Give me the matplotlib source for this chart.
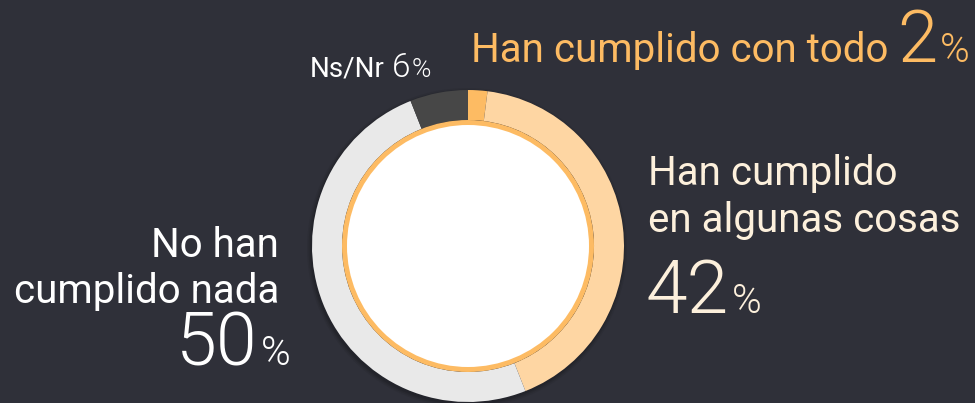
import matplotlib.pyplot as plt
from matplotlib.patches import Circle

# donut data (percent), clockwise from 12 o'clock
labels = ["Han cumplido con todo", "Han cumplido en algunas cosas", "No han cumplido nada", "Ns/Nr"]
values = [2, 42, 50, 6]
colors = ["#fdbb63", "#fed6a3", "#e9e9e9", "#474747"]

bg = "#2f3039"
orange = "#fdbb63"
cream = "#fdf0dc"
font = "Roboto"

fig = plt.figure(figsize=(9.75, 4.03), dpi=100, facecolor=bg)
ax = fig.add_axes([0, 0, 1, 1])
ax.set_facecolor(bg)

cx, cy = 468, 157
r_out, ring = 156, 30

# soft shadow under the ring
for dr, a in [(4, 0.06), (2.5, 0.08), (1, 0.1)]:
    ax.add_patch(Circle((cx - 1, cy - 2), r_out + dr, fc="black", ec="none", alpha=a))

ax.pie(values, colors=colors, startangle=90, counterclock=False, center=(cx, cy),
       radius=r_out, wedgeprops=dict(width=ring, linewidth=0))
ax.add_patch(Circle((cx, cy), r_out - ring, fc=orange, ec="none"))
ax.add_patch(Circle((cx, cy), r_out - ring - 5, fc="white", ec="none"))

ax.set_xlim(0, 975)
ax.set_ylim(0, 403)
ax.set_aspect("equal")
ax.axis("off")

renderer = fig.canvas.get_renderer()


def chain(x, y, pieces, ha="left"):
    # pieces: (text, size, weight, color, gap_before)
    objs = []
    total = 0
    for s, size, weight, color, gap in pieces:
        t = ax.text(0, y, s, fontsize=size, fontweight=weight, color=color,
                    family=font, va="baseline", ha="left")
        w = t.get_window_extent(renderer).width
        objs.append((t, w, gap))
        total += w + gap
    pos = x if ha == "left" else x - total
    for t, w, gap in objs:
        pos += gap
        t.set_x(pos)
        pos += w


# top label
chain(471, 403 - 62, [("Han cumplido con todo", 29, "normal", orange, 0),
                      (f"{values[0]}", 52, 300, orange, 9),
                      ("%", 29, 300, orange, 2)])

# Ns/Nr
chain(431, 403 - 77, [("Ns/Nr", 20, "normal", "white", 0),
                      (f"{values[3]}", 24, 300, "white", 7),
                      ("%", 19, 300, "white", 1)], ha="right")

# right label
chain(648, 403 - 185, [("Han cumplido", 29, "normal", cream, 0)])
chain(648, 403 - 232, [("en algunas cosas", 29, "normal", cream, 0)])
chain(645, 403 - 313, [(f"{values[1]}", 54, 300, cream, 0),
                       ("%", 29, 300, cream, 4)])

# left label
chain(279, 403 - 257, [("No han", 29, "normal", "white", 0)], ha="right")
chain(279, 403 - 303, [("cumplido nada", 29, "normal", "white", 0)], ha="right")
chain(291, 403 - 365, [(f"{values[2]}", 53, 300, "white", 0),
                       ("%", 29, 300, "white", 4)], ha="right")

fig.savefig("out.png", dpi=100, facecolor=bg)
